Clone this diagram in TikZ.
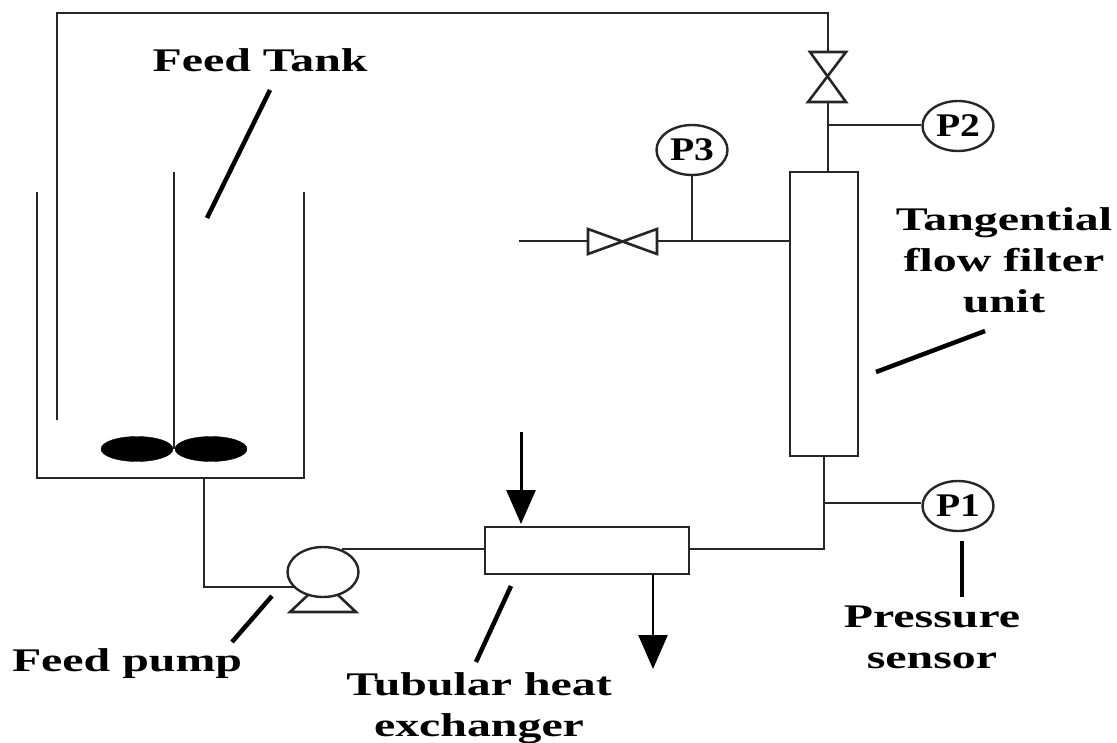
\documentclass[tikz,border=0pt]{standalone}
\usepackage{fontspec}
\setmainfont{Liberation Serif}
\newfontfamily\tagfont{Liberation Serif}[FakeStretch=1.45]
\newfontfamily\gaugefont{Liberation Serif}[FakeStretch=1.2]
\usetikzlibrary{arrows.meta,shapes.geometric}
\tikzset{
  pipe/.style={line width=2.6pt, draw=black!85},
  blade/.style={draw, fill=black, ellipse, minimum width=72pt, minimum height=25pt, inner sep=0pt},
  sensor/.style={draw=black!85, ellipse, line width=2.4pt, minimum width=71pt, minimum height=50pt, inner sep=0pt, font=\gaugefont\fontsize{33}{33}\selectfont\bfseries},
  unitbox/.style={draw=black!85, line width=2.6pt, inner sep=0pt},
  tag/.style={font=\tagfont\fontsize{33}{41}\selectfont\bfseries, align=center, inner sep=0pt},
  leader/.style={line width=4.5pt},
  flow/.style={line width=3pt, -{Triangle[length=34pt,width=29pt]}}
}
\begin{document}
\begin{tikzpicture}[x=1pt,y=-1pt]
    \useasboundingbox (0,0) rectangle (1117,742);
    % tank and stirrer
    \coordinate (tankTL) at (37,192);
    \coordinate (tankBL) at (37,478);
    \coordinate (tankBR) at (304,478);
    \coordinate (tankTR) at (304,192);
    \draw[pipe] (tankTL) -- (tankBL) -- (tankBR) -- (tankTR);
    \node[blade] (bladeL) at (137,449) {};
    \node[blade] (bladeR) at (211,449) {};
    \coordinate (shaftTop) at (174,172);
    \coordinate (shaftEnd) at (174,449);
    \draw[pipe] (shaftTop) -- (shaftEnd);
    % units
    \node[unitbox, minimum width=68pt, minimum height=284pt] (filter) at (824,314) {};
    \node[unitbox, minimum width=204pt, minimum height=47pt] (exchanger) at (587,550.5) {};
    \node[sensor] (P1) at (958,506) {P1};
    \node[sensor] (P2) at (958,126) {P2};
    \node[sensor] (P3) at (692,150) {P3};
    \node[draw=black!85, ellipse, line width=2.4pt, minimum width=71pt, minimum height=50pt, inner sep=0pt] (pump) at (323,572) {};
    % valves
    \draw[pipe] (810,52) -- (846,52) -- (808,102) -- (846,102) -- cycle;
    \draw[pipe] (588,229) -- (588,254) -- (657,229) -- (657,254) -- cycle;
    \draw[pipe] (308,595) coordinate (pumpFootL) -- (290,612) -- (356,612) -- (338,595) coordinate (pumpFootR);
    % piping
    \coordinate (recycleEnd) at (57,420);
    \coordinate (cornerA) at (57,13);
    \coordinate (cornerB) at (828,13);
    \coordinate (valveTop) at (828,52);
    \coordinate (valveBot) at (828,102);
    \coordinate (filterTop) at (828,172);
    \draw[pipe] (recycleEnd) -- (cornerA) -- (cornerB) -- (valveTop);
    \draw[pipe] (valveBot) -- (filterTop);
    \coordinate (teeTwo) at (828,125);
    \draw[pipe] (teeTwo) -- (teeTwo -| P2.west);
    \coordinate (permeateEnd) at (519,241);
    \coordinate (sideValveL) at (588,241);
    \coordinate (sideValveR) at (657,241);
    \coordinate (filterSide) at (790,241);
    \coordinate (teeThree) at (692,241);
    \draw[pipe] (permeateEnd) -- (sideValveL);
    \draw[pipe] (sideValveR) -- (filterSide);
    \draw[pipe] (P3.south) -- (teeThree);
    \coordinate (tankOut) at (204,478);
    \coordinate (pumpElbow) at (204,587);
    \coordinate (pumpIn) at (296,587);
    \draw[pipe] (tankOut) -- (pumpElbow) -- (pumpIn);
    \coordinate (pumpOut) at (342,549);
    \coordinate (hxIn) at (485,549);
    \draw[pipe] (pumpOut) -- (hxIn);
    \coordinate (hxOut) at (689,549);
    \coordinate (elbow) at (824,549);
    \coordinate (filterBot) at (824,456);
    \draw[pipe] (hxOut) -- (elbow) -- (filterBot);
    \coordinate (teeOne) at (824,503);
    \draw[pipe] (teeOne) -- (teeOne -| P1.west);
    % utility arrows
    \coordinate (hotStart) at (521,432);
    \coordinate (hotEnd) at (521,524);
    \coordinate (coldStart) at (653,574);
    \coordinate (coldEnd) at (653,669);
    \draw[flow] (hotStart) -- (hotEnd);
    \draw[pipe, draw=black, -{Triangle[length=34pt,width=29pt]}] (coldStart) -- (coldEnd);
    % labels
    \node[tag] (tankTag) at (260,60) {Feed Tank};
    \node[tag] (filterTag) at (1004,260) {Tangential\\flow filter\\unit};
    \node[tag] (sensorTag) at (932,637) {Pressure\\sensor};
    \node[tag] (pumpTag) at (127,664) {Feed pump};
    \node[tag] (hxTag) at (479,708) {Tubular heat\\exchanger};
    \coordinate (a1) at (270,90);
    \coordinate (a2) at (207,218);
    \coordinate (b1) at (985,331);
    \coordinate (b2) at (876,372);
    \coordinate (c1) at (962,541);
    \coordinate (c2) at (962,597);
    \coordinate (d1) at (272,596);
    \coordinate (d2) at (232,642);
    \coordinate (e1) at (511,586);
    \coordinate (e2) at (476,662);
    \draw[leader] (a1) -- (a2);
    \draw[leader] (b1) -- (b2);
    \draw[leader] (c1) -- (c2);
    \draw[leader] (d1) -- (d2);
    \draw[leader] (e1) -- (e2);
\end{tikzpicture}
\end{document}
